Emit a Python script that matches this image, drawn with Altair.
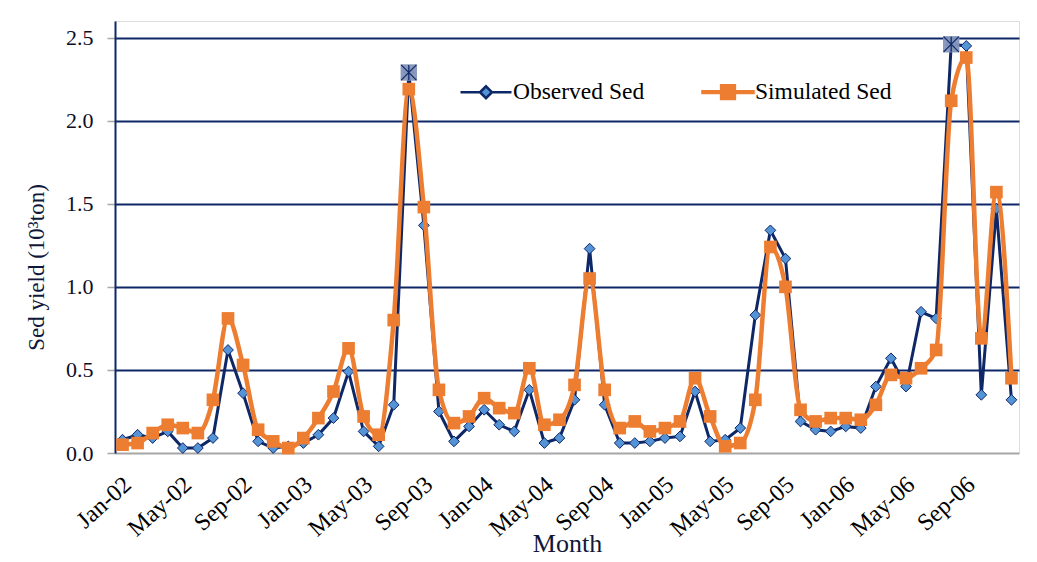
import altair as alt
import pandas as pd

month_names = ["Jan", "Feb", "Mar", "Apr", "May", "Jun",
               "Jul", "Aug", "Sep", "Oct", "Nov", "Dec"]
years = ["02", "03", "04", "05", "06"]
months = [f"{m}-{y}" for y in years for m in month_names]

observed = [0.08, 0.11, 0.09, 0.13, 0.03, 0.03, 0.09, 0.62, 0.36, 0.07, 0.03, 0.04,
            0.06, 0.11, 0.21, 0.49, 0.13, 0.04, 0.29, 2.29, 1.37, 0.25, 0.07, 0.16,
            0.26, 0.17, 0.13, 0.38, 0.06, 0.09, 0.32, 1.23, 0.29, 0.06, 0.06, 0.07,
            0.09, 0.10, 0.37, 0.07, 0.08, 0.15, 0.83, 1.34, 1.17, 0.19, 0.14, 0.13,
            0.16, 0.15, 0.40, 0.57, 0.40, 0.85, 0.81, 2.46, 2.45, 0.35, 1.47, 0.32]
simulated = [0.05, 0.06, 0.12, 0.17, 0.15, 0.12, 0.32, 0.81, 0.53, 0.14, 0.07, 0.03,
             0.09, 0.21, 0.37, 0.63, 0.22, 0.11, 0.80, 2.19, 1.48, 0.38, 0.18, 0.22,
             0.33, 0.27, 0.24, 0.51, 0.17, 0.20, 0.41, 1.05, 0.38, 0.15, 0.19, 0.13,
             0.15, 0.19, 0.45, 0.22, 0.04, 0.06, 0.32, 1.24, 1.00, 0.26, 0.19, 0.21,
             0.21, 0.20, 0.29, 0.47, 0.45, 0.51, 0.62, 2.12, 2.38, 0.69, 1.57, 0.45]
peak_months = ["Aug-03", "Aug-06"]
series_names = ["Observed Sed", "Simulated Sed"]
y_ticks = [0.0, 0.5, 1.0, 1.5, 2.0, 2.5]

NAVY = "#0E2767"
ORANGE = "#ED7D31"
BLUE = "#5393D6"
GRAY = "#A6A6A6"
FONT = "Liberation Serif, Times New Roman, serif"

df = pd.DataFrame({
    "month": months * 2,
    "series": [series_names[0]] * len(months) + [series_names[1]] * len(months),
    "value": observed + simulated,
})

x_enc = alt.X(
    "month:O", sort=months,
    scale=alt.Scale(type="point", padding=0.5),
    axis=alt.Axis(
        values=months[::4], labelAngle=-42, labelAlign="right", labelBaseline="top",
        labelPadding=19, labelOffset=-3, ticks=False, grid=False,
        domainColor=GRAY, domainWidth=2, labelOverlap=False,
        labelFont=FONT, labelFontSize=24, labelColor="#000000",
        title="Month", titleFont=FONT, titleFontSize=26, titleFontWeight="normal",
        titleColor="#10183A", titleY=90, titleBaseline="middle",
    ),
)
y_enc = alt.Y(
    "value:Q",
    scale=alt.Scale(domain=[0, 2.6], nice=False, zero=True),
    axis=alt.Axis(
        values=y_ticks, format=".1f", labelFont=FONT, labelFontSize=22,
        labelColor="#0D0D26", labelPadding=14, tickSize=8, tickColor=GRAY,
        tickWidth=1.5, domainColor=NAVY, domainWidth=2,
        gridColor={"condition": {"test": "datum.value === 0", "value": "transparent"},
                   "value": NAVY},
        gridWidth=2,
        title="Sed yield (10³ton)", titleFont=FONT, titleFontSize=23,
        titleFontWeight="normal", titleColor="#10183A", titleX=-79, titleY=246,
        titleAngle=-90, titleAlign="center", titleBaseline="middle",
    ),
)

base = alt.Chart(df).encode(x=x_enc, y=y_enc)
obs = base.transform_filter(alt.datum.series == series_names[0])
sim = base.transform_filter(alt.datum.series == series_names[1])

obs_line = obs.mark_line(color=NAVY, strokeWidth=3)
obs_pts = obs.mark_point(shape="diamond", filled=True, fill=BLUE, stroke=NAVY,
                         strokeWidth=1, size=115, opacity=1)
sim_line = sim.mark_line(color=ORANGE, strokeWidth=4.5, interpolate="monotone")
sim_pts = sim.mark_point(shape="square", filled=True, color=ORANGE, size=160, opacity=1)

peaks = obs.transform_filter(alt.FieldOneOfPredicate(field="month", oneOf=peak_months))
peak_sq = peaks.mark_point(shape="square", filled=True, fill="#8494B8", size=270, opacity=0.95)
peak_x = peaks.mark_point(shape="M-1,-1L1,1M1,-1L-1,1M0,-1L0,1", filled=False,
                          stroke=NAVY, strokeWidth=1.2, size=230, opacity=1)

path_obs = ("M-1,0H-0.235M0.235,0H1"
            "M-0.235,0L0,-0.235L0.235,0L0,0.235Z")
path_sim = "M-1,-0.035H1V0.035H-1ZM-0.27,-0.27H0.27V0.27H-0.27Z"

leg = alt.Legend(
    title=None, orient="none", legendX=344, legendY=44, direction="horizontal",
    labelFont=FONT, labelFontSize=23.5, labelColor="#000000", labelOffset=0,
    columnPadding=52, symbolSize=2601, symbolStrokeWidth=2.5, padding=0,
    labelLimit=300,
)
legend_layer = alt.Chart(df).transform_filter("datum.value < 0").mark_point(
    filled=True, opacity=1
).encode(
    shape=alt.Shape("series:N", scale=alt.Scale(domain=series_names, range=[path_obs, path_sim]), legend=leg),
    fill=alt.Fill("series:N", scale=alt.Scale(domain=series_names, range=[BLUE, ORANGE]), legend=leg),
    stroke=alt.Stroke("series:N", scale=alt.Scale(domain=series_names, range=[NAVY, ORANGE]), legend=leg),
)

chart = alt.layer(
    obs_line, obs_pts, sim_line, sim_pts, peak_sq, peak_x, legend_layer
).properties(
    width=904, height=432,
    autosize=alt.AutoSizeParams(type="none"),
    padding={"left": 107, "top": 13, "right": 10, "bottom": 104},
).configure_view(
    stroke=NAVY, strokeWidth=1.5
).configure(background="white")

chart.save("out.html", embed_options={"renderer": "svg", "actions": False})
